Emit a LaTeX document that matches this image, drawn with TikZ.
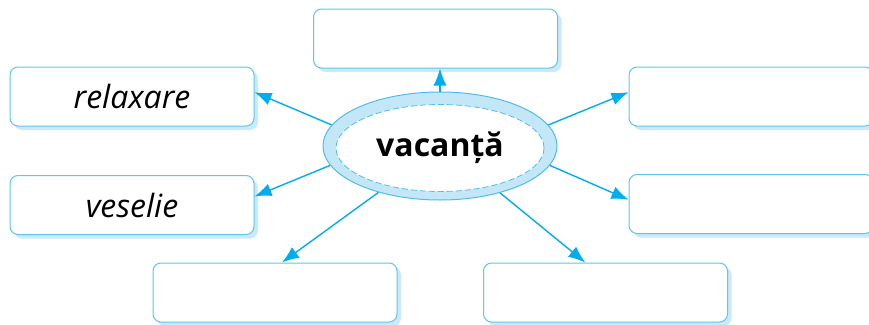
\documentclass[tikz,border=0pt]{standalone}
\usepackage{fontspec}
\setmainfont{Open Sans}
\usetikzlibrary{arrows.meta,shadows,shapes.geometric}
\definecolor{arrowblue}{HTML}{00AEEF}
\definecolor{boxblue}{HTML}{5EC5EE}
\definecolor{shadowblue}{HTML}{C9EAF9}
\definecolor{ringfill}{HTML}{C4E7F8}
\definecolor{ringline}{HTML}{4DBDEB}
\begin{document}
\begin{tikzpicture}[x=1pt,y=-1pt,
  box/.style={draw=boxblue, line width=1pt, rounded corners=8pt, fill=white,
    minimum width=244pt, minimum height=59pt,
    drop shadow={shadow xshift=4pt, shadow yshift=-4pt, fill=shadowblue, opacity=1},
    font=\fontsize{32}{38}\selectfont\itshape},
  link/.style={draw=arrowblue, line width=1.4pt, -{Latex[length=17pt,width=13pt]}}]
\useasboundingbox (0,0) rectangle (869,324);
% boxes
\node[box] (top) at (435.5,38.5){};
\node[box] (relax) at (132,96.5){relaxare};
\node[box] (vesel) at (132,205){veselie};
\node[box] (rtop) at (751,96.5){};
\node[box] (rbot) at (751,204){};
\node[box] (bleft) at (275,292.5){};
\node[box] (bright) at (605.5,292.5){};
% centre
\node[ellipse, draw=ringline, line width=1pt, fill=ringfill, minimum width=234pt, minimum height=108pt] (vac) at (440,146){};
\node[ellipse, draw=ringline, line width=0.8pt, dash pattern=on 6pt off 3pt, fill=white, minimum width=208pt, minimum height=87pt, font=\fontsize{32}{38}\selectfont\bfseries] (vacin) at (440,148){vacanță};
% arrows
\draw[link] (vac.north) -- (vac.north |- top.south);
\draw[link] (vac.169) -- (relax.2);
\draw[link] (vac.190) -- (vesel.4);
\draw[link] (vac.11) -- (rtop.178);
\draw[link] (vac.350) -- (rbot.178);
\draw[link] (vac.217) -- (bleft.77);
\draw[link] (vac.322) -- (bright.124);
\end{tikzpicture}
\end{document}
